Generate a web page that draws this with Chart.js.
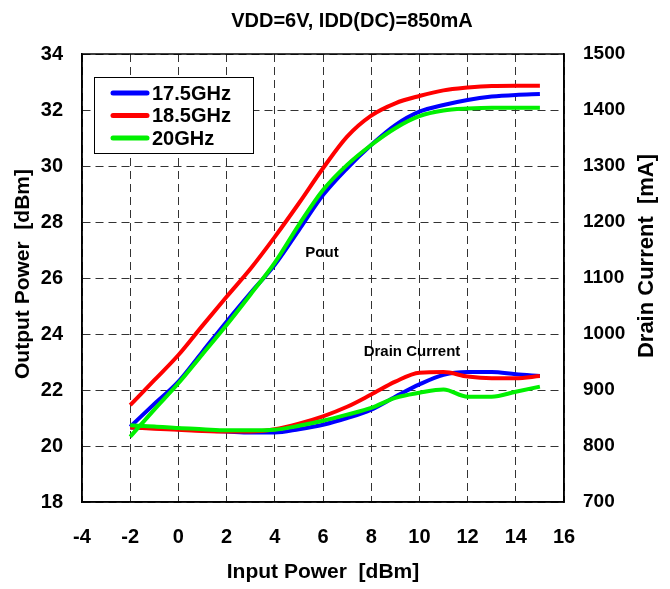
<!DOCTYPE html>
<html>
<head>
<meta charset="utf-8">
<script src="https://cdn.jsdelivr.net/npm/chart.js@4.4.1/dist/chart.umd.min.js"></script>
<style>
  html, body { margin: 0; padding: 0; background: #fff; }
  #wrap { width: 670px; height: 589px; }
</style>
</head>
<body>
<div id="wrap"><canvas id="c" width="670" height="589"></canvas></div>
<script>
// input power sweep [dBm]
const inputPower = [-2, -1, 0, 1, 2, 3, 4, 5, 6, 7, 8, 9, 10, 11, 12, 13, 14, 15];
const freqLabels = ['17.5GHz', '18.5GHz', '20GHz'];
const freqColors = ['#0000ff', '#ff0000', '#00f000'];

// output power [dBm]
const pout175 = [20.69, 21.5, 22.3, 23.37, 24.44, 25.47, 26.47, 27.71, 28.96, 29.92, 30.75, 31.46, 31.94, 32.18, 32.36, 32.48, 32.54, 32.57];
const pout185 = [21.46, 22.35, 23.25, 24.3, 25.33, 26.34, 27.47, 28.67, 29.92, 31.05, 31.8, 32.24, 32.5, 32.7, 32.8, 32.86, 32.87, 32.87];
const pout20  = [20.33, 21.3, 22.24, 23.28, 24.32, 25.42, 26.55, 27.9, 29.14, 30.04, 30.75, 31.35, 31.78, 31.98, 32.05, 32.08, 32.08, 32.08];

// drain current [mA]
const idd175 = [833, 832, 830, 828, 826, 824, 824, 830, 838, 850, 865, 888, 910, 927, 932, 932, 928, 925];
const idd185 = [833, 831, 829, 827, 826, 826, 830, 840, 853, 870, 892, 915, 931, 932, 924, 921, 921, 925];
const idd20  = [837, 835, 832, 830, 828, 828, 829, 836, 845, 856, 868, 886, 895, 901, 888, 888, 897, 906];

const xTicks = [-4, -2, 0, 2, 4, 6, 8, 10, 12, 14, 16];
const poutTicks = [18, 20, 22, 24, 26, 28, 30, 32, 34];
const iddTicks = [700, 800, 900, 1000, 1100, 1200, 1300, 1400, 1500];

const FONT = '"Liberation Sans", Arial, Helvetica, sans-serif';

function pts(ys) { return ys.map((y, i) => ({ x: inputPower[i], y: y })); }

function mkSet(label, ys, color, axis, order) {
    return { label: label, data: pts(ys), borderColor: color, backgroundColor: color, yAxisID: axis,
             borderWidth: 4, pointRadius: 0, cubicInterpolationMode: 'monotone', fill: false, order: order };
}

const datasets = [
    mkSet(freqLabels[0], pout175, freqColors[0], 'y', 3),
    mkSet(freqLabels[1], pout185, freqColors[1], 'y', 2),
    mkSet(freqLabels[2], pout20, freqColors[2], 'y', 1),
    mkSet(freqLabels[0], idd175, freqColors[0], 'y2', 3),
    mkSet(freqLabels[1], idd185, freqColors[1], 'y2', 2),
    mkSet(freqLabels[2], idd20, freqColors[2], 'y2', 1)
];

// titles, frame, legend box, curve labels
const decor = {
    id: 'decor',
    afterDraw(chart) {
        const ctx = chart.ctx, a = chart.chartArea;
        ctx.save();
        ctx.strokeStyle = '#000'; ctx.lineWidth = 1.5; ctx.setLineDash([]);
        ctx.strokeRect(a.left, a.top, a.right - a.left, a.bottom - a.top);

        ctx.fillStyle = '#000'; ctx.textAlign = 'center'; ctx.textBaseline = 'middle';
        ctx.font = 'bold 20px ' + FONT;
        ctx.fillText('VDD=6V, IDD(DC)=850mA', 352, 21);
        ctx.font = 'bold 21px ' + FONT;
        ctx.fillText('Input Power  [dBm]', 323, 572);
        ctx.save(); ctx.translate(23, 274); ctx.rotate(-Math.PI / 2);
        ctx.fillText('Output Power  [dBm]', 0, 0); ctx.restore();
        ctx.font = 'bold 22px ' + FONT;
        ctx.save(); ctx.translate(647, 256); ctx.rotate(-Math.PI / 2);
        ctx.fillText('Drain Current  [mA]', 0, 0); ctx.restore();

        ctx.font = 'bold 15px ' + FONT;
        ctx.fillText('Pout', 322, 253);
        ctx.fillText('Drain Current', 412, 352);

        // legend
        ctx.fillStyle = '#fff'; ctx.fillRect(94.5, 77.5, 159, 76);
        ctx.strokeStyle = '#000'; ctx.lineWidth = 1; ctx.strokeRect(94.5, 77.5, 159, 76);
        ctx.font = 'bold 20px ' + FONT; ctx.textAlign = 'left';
        freqLabels.forEach((lb, i) => {
            let yy = 93 + i * 22.5;
            ctx.strokeStyle = freqColors[i]; ctx.lineWidth = 5; ctx.lineCap = 'round';
            ctx.beginPath(); ctx.moveTo(113, yy); ctx.lineTo(147, yy); ctx.stroke();
            ctx.fillStyle = '#000'; ctx.fillText(lb, 152, yy + 1);
        });
        ctx.restore();
    }
};

const gridStyle = { color: '#333', lineWidth: 1, drawTicks: false };
const tickFont = { family: FONT, size: 20, weight: 'bold' };
const plain = v => String(v);

new Chart(document.getElementById('c'), {
    type: 'line',
    data: { datasets: datasets },
    options: {
        responsive: false, animation: false, events: [],
        layout: { padding: { top: 54, left: 0, right: 0, bottom: 0 } },
        plugins: { legend: { display: false }, tooltip: { enabled: false }, title: { display: false } },
        scales: {
            x: {
                type: 'linear', min: xTicks[0], max: xTicks[xTicks.length - 1],
                afterBuildTicks: s => { s.ticks = xTicks.map(v => ({ value: v })); },
                afterFit: s => { s.height = 87; },
                grid: gridStyle, border: { display: true, color: '#000', width: 1.5, dash: [8, 5] },
                ticks: { color: '#000', font: tickFont, padding: 23, maxRotation: 0, autoSkip: false, callback: plain }
            },
            y: {
                type: 'linear', position: 'left', min: poutTicks[0], max: poutTicks[poutTicks.length - 1],
                afterBuildTicks: s => { s.ticks = poutTicks.map(v => ({ value: v })); },
                afterFit: s => { s.width = 82; },
                grid: gridStyle, border: { display: true, color: '#000', width: 1.5, dash: [8, 5] },
                ticks: { color: '#000', font: tickFont, padding: 19, autoSkip: false, callback: plain }
            },
            y2: {
                type: 'linear', position: 'right', min: iddTicks[0], max: iddTicks[iddTicks.length - 1],
                afterBuildTicks: s => { s.ticks = iddTicks.map(v => ({ value: v })); },
                afterFit: s => { s.width = 106; },
                grid: { drawOnChartArea: false, drawTicks: false }, border: { display: true, color: '#000', width: 1.5 },
                ticks: { color: '#000', font: { family: FONT, size: 19, weight: 'bold' }, padding: 19, autoSkip: false, callback: plain }
            }
        }
    },
    plugins: [decor]
});
</script>
</body>
</html>
